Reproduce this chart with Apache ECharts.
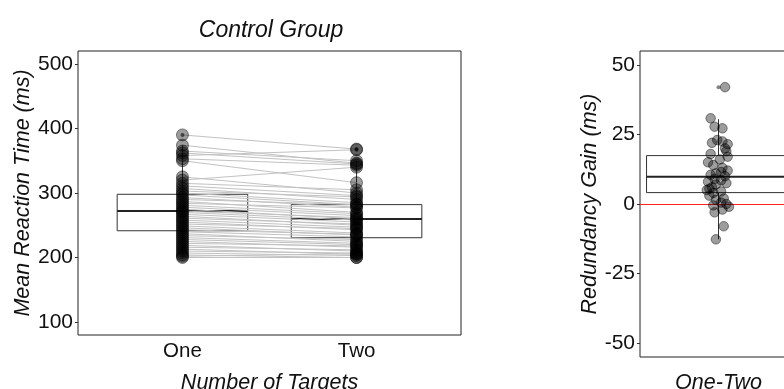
<!DOCTYPE html>
<html>
<head>
<meta charset="utf-8">
<script src="https://cdn.jsdelivr.net/npm/echarts@6/dist/echarts.min.js"></script>
<style>
html,body{margin:0;padding:0;background:#fff;}
#chart{width:784px;height:389px;}
</style>
</head>
<body>
<div id="chart"></div>
<script>
// ---------- data ----------
const categories = ['One', 'Two'];
const rtOne = [390, 374, 365, 362, 358, 353, 350, 325, 320, 315, 311, 307, 303, 300, 297, 293,
  290, 287, 284, 281, 278, 275, 272, 270, 267, 264, 261, 258, 255, 252, 249, 246,
  243, 240, 237, 234, 231, 228, 225, 222, 219, 216, 213, 210, 207, 204, 202, 200];
const rtTwo = [368, 346, 350, 345, 367, 343, 316, 300, 340, 305, 296, 290, 294, 285, 282, 278,
  282, 270, 277, 268, 265, 260, 262, 258, 255, 250, 252, 247, 243, 245, 238, 235,
  236, 232, 225, 228, 222, 220, 216, 218, 210, 212, 205, 207, 203, 200, 206, 200];
// whisker low, Q1, median, Q3, whisker high
const statsOne = [200, 241.5, 272, 298, 374];
const statsTwo = [200, 230.7, 259.7, 282, 350];
const outliersOne = [390];
const outliersTwo = [368, 367];
const rtTicks = [100, 200, 300, 400, 500];

const gainLabel = 'One-Two';
const gainValues = [42, 30.8, 27.8, 27.2, 23, 22.5, 22, 21.5, 20, 18, 17, 16, 15, 14, 13, 12,
  11, 10.5, 10, 9, 8.5, 8, 7.5, 7, 6, 5, 4.5, 4, 3, 2, 1.5, 0.5, 0, -0.5, -1, -2, -3, -8, -12.7,
  19, 11.5, 5.5];
const gainJitter = [1.05, 0.94, 0.97, 1.03, 0.99, 1.03, 0.95, 1.07, 1.05, 0.94, 1.07, 1.01, 0.92, 0.96, 1.03, 1.07,
  0.98, 0.94, 1.05, 0.97, 1.02, 0.92, 1.06, 0.98, 0.95, 0.91, 1.02, 0.96, 0.93, 1.04, 0.98, 1.02, 1.06, 0.96, 1.08, 1.03, 0.97, 1.04, 0.98,
  1.06, 1.02, 0.93];
const statsGain = [-12.7, 4.1, 9.8, 17.4, 30.5];
const outliersGain = [42];
const gainTicks = [-50, -25, 0, 25, 50];

// ---------- chart ----------
const FONT = '"Liberation Sans", Arial, Helvetica, sans-serif';
const chart = echarts.init(document.getElementById('chart'), null, {renderer: 'canvas'});

function boxRenderer(halfWidth) {
  return function (params, api) {
    const x = api.value(0);
    const lo = api.value(1), q1 = api.value(2), med = api.value(3), q3 = api.value(4), hi = api.value(5);
    const tl = api.coord([x - halfWidth, q3]);
    const br = api.coord([x + halfWidth, q1]);
    const mL = api.coord([x - halfWidth, med]);
    const mR = api.coord([x + halfWidth, med]);
    const wTop = api.coord([x, hi]);
    const wQ3 = api.coord([x, q3]);
    const wQ1 = api.coord([x, q1]);
    const wLo = api.coord([x, lo]);
    const stroke = '#333';
    return {
      type: 'group',
      children: [
        {type: 'line', shape: {x1: wQ3[0], y1: wQ3[1], x2: wTop[0], y2: wTop[1]}, style: {stroke: stroke, lineWidth: 1}},
        {type: 'line', shape: {x1: wQ1[0], y1: wQ1[1], x2: wLo[0], y2: wLo[1]}, style: {stroke: stroke, lineWidth: 1}},
        {type: 'rect', shape: {x: tl[0], y: tl[1], width: br[0] - tl[0], height: br[1] - tl[1]},
          style: {fill: '#fff', stroke: stroke, lineWidth: 1}},
        {type: 'line', shape: {x1: mL[0], y1: mL[1], x2: mR[0], y2: mR[1]}, style: {stroke: '#222', lineWidth: 2}}
      ]
    };
  };
}

const pointStyle = {color: 'rgba(0,0,0,0.48)', borderColor: 'rgba(0,0,0,0.55)', borderWidth: 1};
const nameStyle = {fontFamily: FONT, fontSize: 21.5, fontStyle: 'italic', color: '#111'};
const tickStyle = {fontFamily: FONT, fontSize: 21, color: '#111'};

const option = {
  animation: false,
  backgroundColor: '#fff',
  title: {
    text: 'Control Group',
    left: 266, top: 14, textAlign: 'center',
    textStyle: {fontFamily: FONT, fontSize: 23, fontStyle: 'italic', fontWeight: 'normal', color: '#111'}
  },
  grid: [
    {left: 78, top: 51, width: 383, height: 284, show: true, borderColor: '#222', borderWidth: 1,
      backgroundColor: 'transparent', outerBoundsMode: 'none', containLabel: false},
    {left: 640, top: 51, width: 157, height: 306, show: true, borderColor: '#222', borderWidth: 1,
      backgroundColor: 'transparent', outerBoundsMode: 'none', containLabel: false}
  ],
  xAxis: [
    {
      gridIndex: 0, type: 'value', min: 0.4, max: 2.6,
      name: 'Number of Targets', nameLocation: 'middle', nameGap: 37,
      nameTextStyle: nameStyle,
      axisLine: {show: false}, axisTick: {show: false}, splitLine: {show: false},
      axisLabel: Object.assign({
        customValues: [1, 2], margin: 6,
        formatter: function (v) { return categories[Math.round(v) - 1] || ''; }
      }, tickStyle, {fontSize: 20.5})
    },
    {
      gridIndex: 1, type: 'value', min: 0.4, max: 1.6,
      name: gainLabel, nameLocation: 'middle', nameGap: 15,
      nameTextStyle: nameStyle,
      axisLine: {show: false}, axisTick: {show: false}, splitLine: {show: false},
      axisLabel: {show: false}
    }
  ],
  yAxis: [
    {
      gridIndex: 0, type: 'value', min: 80, max: 520,
      name: 'Mean Reaction Time (ms)', nameLocation: 'middle', nameGap: 35,
      nameTextStyle: nameStyle,
      axisLine: {show: false}, splitLine: {show: false},
      axisTick: {show: true, customValues: rtTicks, length: 3, lineStyle: {color: '#333'}},
      axisLabel: Object.assign({customValues: rtTicks, margin: 5}, tickStyle)
    },
    {
      gridIndex: 1, type: 'value', min: -55, max: 55,
      name: 'Redundancy Gain (ms)', nameLocation: 'middle', nameGap: 37,
      nameTextStyle: nameStyle,
      axisLine: {show: false}, splitLine: {show: false},
      axisTick: {show: true, customValues: gainTicks, length: 3, lineStyle: {color: '#333'}},
      axisLabel: Object.assign({customValues: gainTicks, margin: 5}, tickStyle)
    }
  ],
  series: [
    {
      type: 'custom', xAxisIndex: 0, yAxisIndex: 0, z: 1,
      renderItem: boxRenderer(0.375),
      encode: {x: 0, y: [1, 2, 3, 4, 5]},
      data: [[1].concat(statsOne), [2].concat(statsTwo)]
    },
    {
      type: 'lines', coordinateSystem: 'cartesian2d', xAxisIndex: 0, yAxisIndex: 0, z: 2,
      lineStyle: {color: '#c2c2c2', width: 1, opacity: 1},
      data: rtOne.map(function (v, i) { return {coords: [[1, v], [2, rtTwo[i]]]}; })
    },
    {
      type: 'scatter', xAxisIndex: 0, yAxisIndex: 0, z: 3,
      symbolSize: 12, itemStyle: pointStyle,
      data: rtOne.map(function (v) { return [1, v]; }).concat(rtTwo.map(function (v) { return [2, v]; }))
    },
    {
      type: 'scatter', xAxisIndex: 0, yAxisIndex: 0, z: 4,
      symbolSize: 4, itemStyle: {color: 'rgba(0,0,0,0.7)'},
      data: outliersOne.map(function (v) { return [1, v]; }).concat(outliersTwo.map(function (v) { return [2, v]; }))
    },
    {
      type: 'custom', xAxisIndex: 1, yAxisIndex: 1, z: 1,
      renderItem: boxRenderer(0.55),
      encode: {x: 0, y: [1, 2, 3, 4, 5]},
      data: [[1].concat(statsGain)]
    },
    {
      type: 'scatter', xAxisIndex: 1, yAxisIndex: 1, z: 3,
      symbolSize: 4, itemStyle: {color: 'rgba(0,0,0,0.6)'},
      data: outliersGain.map(function (v) { return [1, v]; }),
      markLine: {
        silent: true, symbol: 'none', z: 2,
        label: {show: false},
        lineStyle: {color: '#ff2020', type: 'solid', width: 1.2},
        data: [{yAxis: 0}]
      }
    },
    {
      type: 'scatter', xAxisIndex: 1, yAxisIndex: 1, z: 4,
      symbolSize: 9.5, itemStyle: pointStyle,
      data: gainValues.map(function (v, i) { return [gainJitter[i], v]; })
    }
  ]
};
chart.setOption(option);
</script>
</body>
</html>
